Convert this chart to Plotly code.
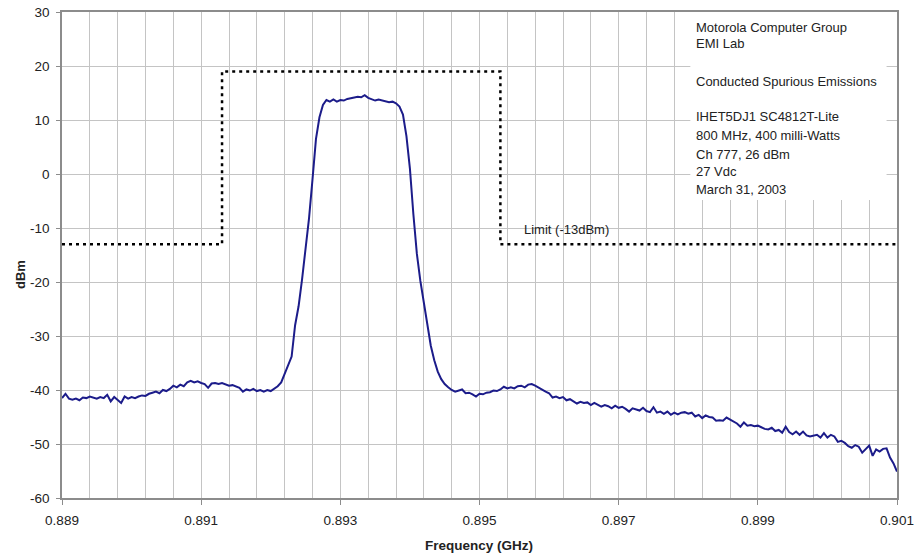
import numpy as np
import plotly.graph_objects as go

# Spectrum analyzer sweep: 241 points from 0.889 to 0.901 GHz
f_start, f_stop, n_points = 0.889, 0.901, 241
freq_ghz = np.linspace(f_start, f_stop, n_points)

level_dbm = [
    -41.5, -40.7, -41.6, -41.8, -41.6, -41.9, -41.4, -41.5, -41.2, -41.4,
    -41.6, -41.3, -41.5, -40.9, -42.1, -41.3, -41.8, -42.4, -41.2, -41.6,
    -41.3, -41.5, -41.2, -41.0, -41.1, -40.7, -40.5, -40.3, -40.6, -40.0,
    -40.2, -39.8, -39.2, -39.5, -39.0, -39.3, -38.6, -38.3, -38.6, -38.4,
    -38.7, -38.9, -39.6, -38.8, -38.7, -38.9, -38.7, -39.0, -39.2, -39.1,
    -39.4, -39.6, -40.3, -39.9, -40.1, -39.8, -40.2, -40.0, -40.3, -40.0,
    -40.2, -39.7, -39.3, -38.6, -37.0, -35.1, -33.8, -28.0, -24.5, -19.5,
    -14.0, -8.2, -1.0, 6.5, 10.5, 12.8, 13.7, 13.4, 13.8, 13.4,
    13.7, 13.6, 13.9, 14.0, 14.1, 14.3, 14.2, 14.6, 14.1, 13.9,
    13.6, 13.8, 13.6, 13.5, 13.3, 13.4, 13.1, 12.5, 11.0, 7.0,
    1.0, -7.5, -14.8, -19.8, -24.0, -28.3, -31.8, -34.5, -36.6, -38.0,
    -38.9, -39.5, -40.0, -40.3, -40.1, -39.9, -40.6, -40.5, -40.8, -41.2,
    -40.7, -40.8, -40.5, -40.4, -40.1, -40.2, -39.9, -39.4, -39.7, -39.5,
    -39.7, -39.3, -39.2, -39.5, -39.0, -38.9, -39.2, -39.6, -40.0, -40.3,
    -40.6, -41.4, -41.2, -41.5, -41.3, -41.9, -41.7, -42.1, -42.5, -42.2,
    -42.4, -42.3, -42.8, -42.4, -42.7, -43.1, -42.8, -43.0, -43.4, -42.9,
    -43.3, -43.1, -43.5, -44.0, -43.4, -43.6, -43.8, -43.3, -43.9, -44.1,
    -43.2, -44.2, -44.0, -44.4, -44.0, -44.6, -44.2, -44.5, -44.2, -44.1,
    -44.4, -44.2, -44.9, -44.6, -45.2, -44.7, -45.0, -45.1, -45.7, -45.6,
    -45.7, -45.1, -45.5, -45.8, -46.2, -46.8, -46.0, -46.6, -46.5, -46.7,
    -46.6, -46.9, -47.2, -47.3, -47.0, -47.6, -47.4, -47.9, -46.8, -47.8,
    -48.2, -47.7, -48.3, -47.7, -48.4, -48.6, -48.5, -48.3, -48.8, -48.0,
    -48.8, -48.3, -48.6, -49.6, -49.4, -49.8, -50.4, -50.7, -50.2, -50.5,
    -51.6, -51.0, -50.3, -52.2, -51.0, -51.4, -50.9, -50.8, -52.5, -53.6,
    -55.1,
]

# Emission mask: -13 dBm outside the channel, 19 dBm inside
limit_freq = [0.889, 0.8913, 0.8913, 0.8953, 0.8953, 0.901]
limit_dbm = [-13, -13, 19, 19, -13, -13]

info_lines = [
    ("Motorola Computer Group", 27.2),
    ("EMI Lab", 24.1),
    ("Conducted Spurious Emissions", 17.2),
    ("IHET5DJ1 SC4812T-Lite", 10.6),
    ("800 MHz, 400 milli-Watts", 7.2),
    ("Ch 777, 26 dBm", 3.7),
    ("27 Vdc", 0.4),
    ("March 31, 2003", -2.8),
]

x_ticks = [0.889, 0.891, 0.893, 0.895, 0.897, 0.899, 0.901]
y_ticks = [-60, -50, -40, -30, -20, -10, 0, 10, 20, 30]

FONT = "Liberation Sans, Arial, sans-serif"
GRID = "#c4c4c4"
AXIS = "#8c8c8c"

# plot area in pixels
L, R, T, B = 62, 897, 12, 498

fig = go.Figure()

fig.add_trace(go.Scatter(
    x=limit_freq, y=limit_dbm, mode="lines",
    line=dict(color="black", width=2.5, dash="3px,4px"),
    hoverinfo="skip", showlegend=False,
))

fig.add_trace(go.Scatter(
    x=freq_ghz, y=level_dbm, mode="lines",
    line=dict(color="#1c1c8a", width=2),
    showlegend=False,
))

# White panel holding the test information
fig.add_shape(
    type="rect", xref="x", yref="y",
    x0=0.89803, x1=0.90085, y0=-4.8, y1=30,
    fillcolor="white", line=dict(width=0), layer="between",
)

for text, yv in info_lines:
    fig.add_annotation(
        x=0.89808, y=yv, xref="x", yref="y", text=text,
        showarrow=False, xanchor="left", yanchor="middle",
        font=dict(family=FONT, size=13, color="#222"),
    )

fig.add_annotation(
    x=0.89561, y=-10.2, xref="x", yref="y", text="Limit (-13dBm)",
    showarrow=False, xanchor="left", yanchor="middle",
    font=dict(family=FONT, size=13, color="#222"),
)

fig.add_annotation(
    xref="paper", yref="paper",
    x=(20 - L) / (R - L), y=(B - 275) / (B - T),
    xanchor="center", yanchor="middle",
    text="<b>dBm</b>", showarrow=False, textangle=-90,
    font=dict(family=FONT, size=13, color="#222"),
)

fig.add_annotation(
    xref="paper", yref="paper",
    x=(479 - L) / (R - L), y=(B - 545) / (B - T),
    xanchor="center", yanchor="middle",
    text="<b>Frequency (GHz)</b>", showarrow=False,
    font=dict(family=FONT, size=13.5, color="#222"),
)

fig.update_layout(
    width=916, height=554,
    margin=dict(l=L, r=916 - R, t=T, b=554 - B, autoexpand=False),
    paper_bgcolor="white", plot_bgcolor="white",
    font=dict(family=FONT, size=13, color="#222"),
    xaxis=dict(
        range=[f_start, f_stop], automargin=False,
        tickvals=x_ticks, ticktext=[f"{v:.3f}" for v in x_ticks],
        showgrid=True, gridcolor=GRID, gridwidth=1,
        minor=dict(tick0=f_start, dtick=0.0004, showgrid=True,
                   gridcolor=GRID, gridwidth=1, ticks=""),
        showline=True, linecolor=AXIS, linewidth=1.5, mirror=True,
        ticks="outside", ticklen=5, tickcolor=AXIS,
        ticklabelstandoff=4,
        tickfont=dict(family=FONT, size=13.5, color="#222"),
        zeroline=False,
    ),
    yaxis=dict(
        range=[-60, 30], automargin=False,
        tickvals=y_ticks, ticktext=[str(v) for v in y_ticks],
        showgrid=True, gridcolor=GRID, gridwidth=1,
        showline=True, linecolor=AXIS, linewidth=1.5, mirror=True,
        ticks="outside", ticklen=4, tickcolor=AXIS,
        ticklabelstandoff=4,
        tickfont=dict(family=FONT, size=13.5, color="#222"),
        zeroline=False,
    ),
)

fig.write_html("out.html")
